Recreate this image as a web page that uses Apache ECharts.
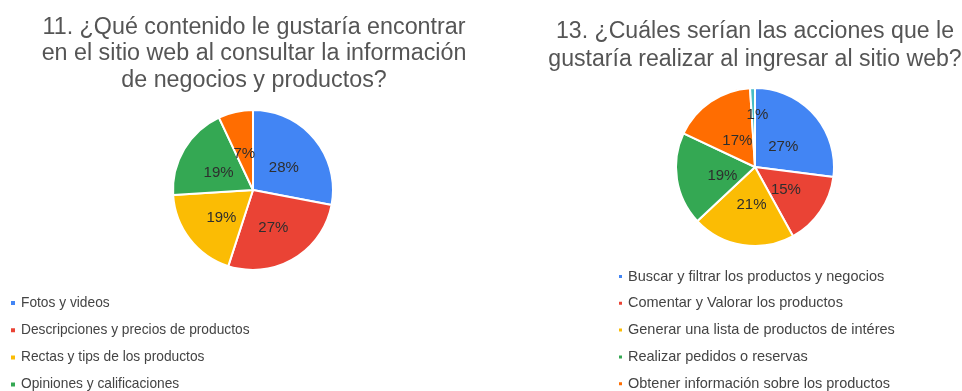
<!DOCTYPE html>
<html><head><meta charset="utf-8">
<script src="https://cdn.jsdelivr.net/npm/echarts@6/dist/echarts.min.js"></script>
<style>html,body{margin:0;padding:0;background:#fff}#c{width:962px;height:391px}</style>
</head><body><div id="c"></div>
<script>
const title1 = "11. ¿Qué contenido le gustaría encontrar\nen el sitio web al consultar la información\nde negocios y productos?";
const title2 = "13. ¿Cuáles serían las acciones que le\ngustaría realizar al ingresar al sitio web?";
const cats1 = ["Fotos y videos", "Descripciones y precios de productos", "Rectas y tips de los productos", "Opiniones y calificaciones", "Otros"];
const vals1 = [28, 27, 19, 19, 7];
const cats2 = ["Buscar y filtrar los productos y negocios", "Comentar y Valorar los productos", "Generar una lista de productos de intéres", "Realizar pedidos o reservas", "Obtener información sobre los productos", "Otro"];
const vals2 = [27, 15, 21, 19, 17, 1];
const colors = ["#4285F4", "#EA4335", "#FBBC04", "#34A853", "#FF6D01", "#46BDC6"];

const font = "Liberation Sans, Arial, sans-serif";
function mk(cats, vals) { return cats.map((n, i) => ({ name: n, value: vals[i], itemStyle: { color: colors[i] } })); }
function mkLbl(cats, vals) { return cats.map((n, i) => ({ name: n, value: vals[i], itemStyle: { color: 'rgba(0,0,0,0)' } })); }

const chart = echarts.init(document.getElementById('c'), null, { renderer: 'canvas' });
const labelCommon = { show: true, position: 'inside', formatter: '{d}%', color: '#2e2e2e', fontSize: 15, fontFamily: font };
// label layer for the right pie: tiny last slice labelled separately (outside)
const lbl2 = mkLbl(cats2, vals2);
lbl2[5].label = { show: false };
const lblSmall = mkLbl(cats2, vals2).map((d, i) => Object.assign(d, { label: { show: i === 5 } }));
const pieBase = { type: 'pie', startAngle: 90, clockwise: true, labelLine: { show: false }, emphasis: { disabled: true }, silent: true };
chart.setOption({
  animation: false,
  title: [
    { text: title1, left: 249, top: 9, textAlign: 'center', textStyle: { fontFamily: font, fontSize: 23.3, fontWeight: 'normal', color: '#555', lineHeight: 26.5 } },
    { text: title2, left: 750, top: 13, textAlign: 'center', textStyle: { fontFamily: font, fontSize: 23.1, fontWeight: 'normal', color: '#555', lineHeight: 28 } }
  ],
  legend: [
    { data: cats1.slice(0, 4), orient: 'vertical', left: 4, top: 291, height: 300, itemWidth: 6, itemHeight: 6, icon: 'rect', itemGap: 13.2, textStyle: { fontFamily: font, fontSize: 13.75, color: '#444' }, selectedMode: false },
    { data: cats2.slice(0, 5), orient: 'vertical', left: 612, top: 264, height: 300, itemWidth: 5, itemHeight: 5, icon: 'rect', itemGap: 11.8, textStyle: { fontFamily: font, fontSize: 14.5, color: '#444' }, selectedMode: false }
  ],
  series: [
    Object.assign({}, pieBase, { center: [253, 190], radius: 80, data: mk(cats1, vals1), label: { show: false }, itemStyle: { borderColor: '#fff', borderWidth: 2 } }),
    Object.assign({}, pieBase, { center: [755, 167], radius: 79, data: mk(cats2, vals2), label: { show: false }, itemStyle: { borderColor: '#fff', borderWidth: 2 } }),
    Object.assign({}, pieBase, { center: [253, 190], radius: 74, data: mkLbl(cats1, vals1), label: labelCommon, labelLayout: { dy: 3 } }),
    Object.assign({}, pieBase, { center: [755, 167], radius: 64, data: lbl2, label: labelCommon, labelLayout: { dx: 2, dy: 3 } }),
    Object.assign({}, pieBase, { center: [755, 167], radius: 54, data: lblSmall, avoidLabelOverlap: false,
      label: Object.assign({}, labelCommon, { position: 'outside' }), labelLine: { show: false, length: 0, length2: 0 },
      labelLayout: function (p) { return { dx: 20, dy: 2 }; } })
  ]
});
</script></body></html>
